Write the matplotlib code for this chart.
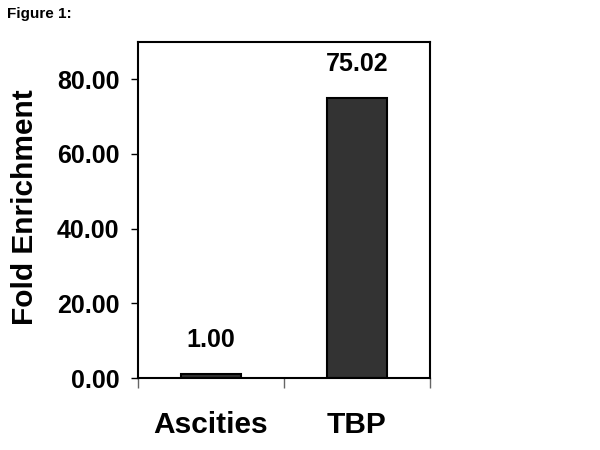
import matplotlib
matplotlib.use("Agg")
import matplotlib.pyplot as plt
from matplotlib.ticker import FixedLocator, FormatStrFormatter

categories = ["Ascities", "TBP"]
values = [1.00, 75.02]
value_labels = ["1.00", "75.02"]
yticks = [0, 20, 40, 60, 80]

plt.rcParams['font.family'] = ['Liberation Sans', 'DejaVu Sans']
plt.rcParams['font.weight'] = 'bold'

fig = plt.figure(figsize=(6, 4.5), dpi=100)
ax = fig.add_axes([137.5/600, 1-378/450, 292.5/600, 336/450])

x = list(range(len(categories)))
bars = ax.bar(x, values, width=0.41, color="#333333", edgecolor="black", linewidth=1.5)

for xi, v, lab in zip(x, values, value_labels):
    ax.annotate(lab, (xi, v), xytext=(0, 16), textcoords="offset points",
                ha="center", va="bottom", fontsize=18, fontweight="bold")

ax.set_xlim(-0.5, len(categories) - 0.5)
ax.set_ylim(0, 90)

ax.set_yticks(yticks)
ax.yaxis.set_major_formatter(FormatStrFormatter("%.2f"))
ax.tick_params(axis="y", direction="out", length=5, width=1, pad=8, labelsize=18)

# boundary ticks (major) and label ticks (minor)
ax.xaxis.set_major_locator(FixedLocator([-0.5, 0.5, 1.5]))
ax.xaxis.set_major_formatter(plt.NullFormatter())
ax.xaxis.set_minor_locator(FixedLocator(x))
ax.set_xticklabels(categories, minor=True)
ax.tick_params(axis="x", which="major", direction="out", length=7, width=1, color="#666666")
ax.tick_params(axis="x", which="minor", length=0, pad=24, labelsize=21.5)

for lab in ax.get_xticklabels(minor=True) + ax.get_yticklabels():
    lab.set_fontweight("bold")

for s in ax.spines.values():
    s.set_linewidth(1.5)

ax.set_ylabel("Fold Enrichment", fontsize=21.5, fontweight="bold")
ax.yaxis.set_label_coords(-0.337, 0.51)

fig.text(7/600, 1-7/450, "Figure 1:", fontsize=11, fontweight="bold", ha="left", va="top")

fig.savefig("out.png", dpi=100)
